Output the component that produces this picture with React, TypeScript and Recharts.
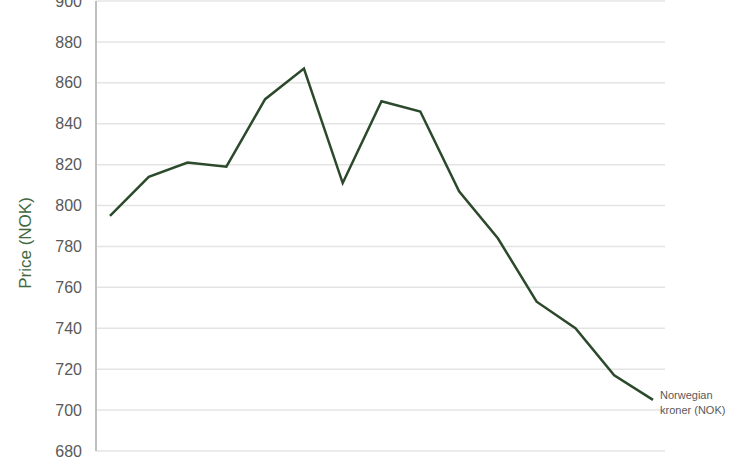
import { LineChart, Line, XAxis, YAxis, CartesianGrid, LabelList } from "recharts";

const GRID_STROKE = "#e4e4e4";
const AXIS_FILL = "#595959";
const LINE_COLOR = "#2c4a2b";
const TITLE_COLOR = "#41693d";

// x categories are not shown in the crop, so points are just numbered
const periods = ["1", "2", "3", "4", "5", "6", "7", "8", "9", "10", "11", "12", "13", "14", "15"];
const nokPrice = [795, 814, 821, 819, 852, 867, 811, 851, 846, 807, 784, 753, 740, 717, 705];
const yTicks = [680, 700, 720, 740, 760, 780, 800, 820, 840, 860, 880, 900];
const seriesName = ["Norwegian", "kroner (NOK)"];

const data = periods.map((p, i) => ({ period: p, nok: nokPrice[i] }));

function EndLabel(props: any) {
  const { x, y, index } = props;
  if (index !== nokPrice.length - 1) return null;
  return (
    <text x={x + 7} y={y} fill={AXIS_FILL} fontSize={11} fontFamily="Liberation Sans, Arial, sans-serif">
      <tspan x={x + 7} dy={-1}>{seriesName[0]}</tspan>
      <tspan x={x + 7} dy={15}>{seriesName[1]}</tspan>
    </text>
  );
}

function AxisTitle(props: any) {
  const { viewBox } = props;
  const cy = viewBox.y + viewBox.height / 2 + 17;
  return (
    <text
      x={25}
      y={cy}
      transform={`rotate(-90, 25, ${cy})`}
      textAnchor="middle"
      dominantBaseline="central"
      fill={TITLE_COLOR}
      fontSize={17}
      fontFamily="Liberation Sans, Arial, sans-serif"
    >
      Price (NOK)
    </text>
  );
}

export default function App() {
  return (
    <div style={{ position: "absolute", left: 0, top: 0, background: "#fff" }}>
      <LineChart
        width={734}
        height={458}
        data={data}
        margin={{ top: 1, right: 69, bottom: 7, left: 0 }}
      >
        <CartesianGrid stroke={GRID_STROKE} strokeWidth={1.5} vertical={false} />
        <XAxis dataKey="period" hide padding={{ left: 14, right: 12 }} />
        <YAxis
          domain={[680, 900]}
          ticks={yTicks}
          interval={0}
          width={96}
          tickLine={false}
          tickMargin={8}
          axisLine={{ stroke: "#bfbfbf", strokeWidth: 2 }}
          tick={{ fill: AXIS_FILL, fontSize: 16, fontFamily: "Liberation Sans, Arial, sans-serif" }}
          label={<AxisTitle />}
        />
        <Line
          type="linear"
          dataKey="nok"
          stroke={LINE_COLOR}
          strokeWidth={2.5}
          dot={false}
          isAnimationActive={false}
        >
          <LabelList dataKey="nok" content={<EndLabel />} />
        </Line>
      </LineChart>
    </div>
  );
}
